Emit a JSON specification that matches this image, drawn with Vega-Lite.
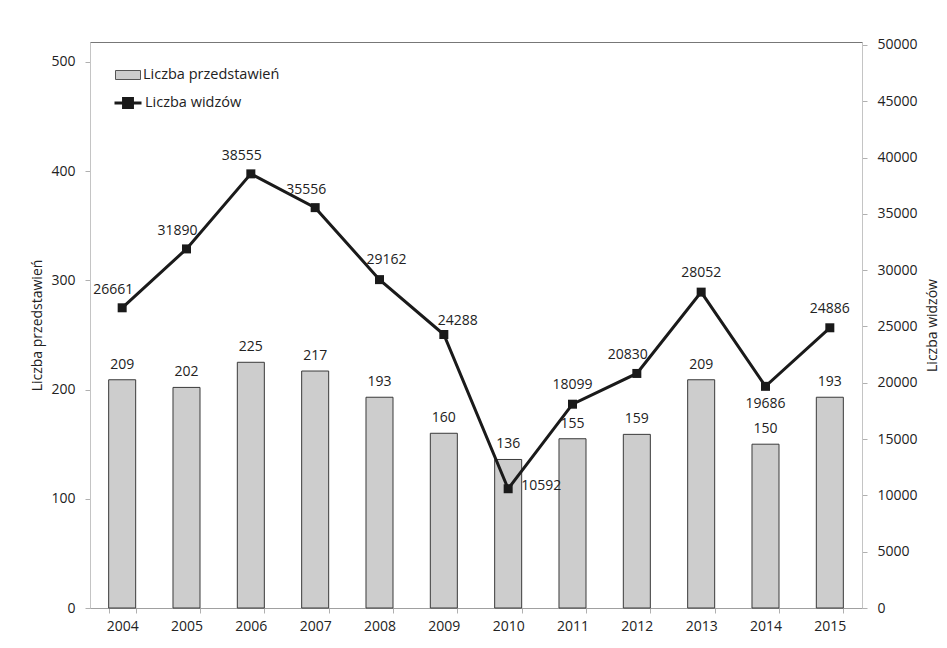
{
  "$schema": "https://vega.github.io/schema/vega-lite/v6.json",
  "width": 772,
  "height": 566,
  "autosize": {"type": "none"},
  "padding": {"left": 90, "top": 42, "right": 85, "bottom": 40},
  "background": "white",
  "config": {
    "font": "Open Sans",
    "view": {"stroke": "#777777", "strokeWidth": 1},
    "axis": {
      "labelFont": "Open Sans", "labelFontSize": 14, "labelColor": "#222",
      "titleFont": "Open Sans", "titleFontSize": 14, "titleFontWeight": "normal", "titleColor": "#222",
      "domainColor": "#c4c4c4", "tickColor": "#b0b0b0", "tickSize": 5, "grid": false
    },
    "legend": {"labelFont": "Open Sans", "labelFontSize": 14.5, "labelColor": "#222"}
  },
  "data": {
    "values": [
      {"rok": "2004", "przedstawienia": 209, "widzowie": 26661},
      {"rok": "2005", "przedstawienia": 202, "widzowie": 31890},
      {"rok": "2006", "przedstawienia": 225, "widzowie": 38555},
      {"rok": "2007", "przedstawienia": 217, "widzowie": 35556},
      {"rok": "2008", "przedstawienia": 193, "widzowie": 29162},
      {"rok": "2009", "przedstawienia": 160, "widzowie": 24288},
      {"rok": "2010", "przedstawienia": 136, "widzowie": 10592},
      {"rok": "2011", "przedstawienia": 155, "widzowie": 18099},
      {"rok": "2012", "przedstawienia": 159, "widzowie": 20830},
      {"rok": "2013", "przedstawienia": 209, "widzowie": 28052},
      {"rok": "2014", "przedstawienia": 150, "widzowie": 19686},
      {"rok": "2015", "przedstawienia": 193, "widzowie": 24886}
    ]
  },
  "encoding": {
    "x": {
      "field": "rok", "type": "ordinal",
      "scale": {"paddingInner": 0.58, "paddingOuter": 0.29},
      "axis": {"title": null, "labelAngle": 0, "tickBand": "extent", "labelPadding": 6, "domainColor": "#a0a0a0"}
    }
  },
  "layer": [
    {
      "encoding": {
        "y": {
          "field": "przedstawienia", "type": "quantitative",
          "scale": {"domain": [0, 518.3], "nice": false, "zero": true},
          "axis": {"orient": "left", "title": "Liczba przedstawień", "values": [0, 100, 200, 300, 400, 500], "labelPadding": 10, "titlePadding": 6}
        }
      },
      "layer": [
        {
          "mark": {"type": "bar", "stroke": "#3a3a3a", "strokeWidth": 1},
          "encoding": {
            "fill": {
              "datum": "Liczba przedstawień",
              "scale": {"range": ["#cdcdcd"]},
              "legend": {
                "title": null, "orient": "none", "legendX": 25, "legendY": 20,
                "symbolType": "M-1,-0.36H1V0.36H-1Z", "symbolSize": 625,
                "symbolStrokeColor": "#555", "symbolStrokeWidth": 1, "labelOffset": 2, "padding": 0
              }
            }
          }
        },
        {
          "mark": {"type": "text", "baseline": "middle", "dy": -15, "fontSize": 14, "color": "#222"},
          "encoding": {"text": {"field": "przedstawienia", "type": "quantitative"}}
        }
      ]
    },
    {
      "encoding": {
        "y": {
          "field": "widzowie", "type": "quantitative",
          "scale": {"domain": [0, 50266], "nice": false, "zero": true},
          "axis": {"orient": "right", "title": "Liczba widzów", "titleAngle": -90, "values": [0, 5000, 10000, 15000, 20000, 25000, 30000, 35000, 40000, 45000, 50000], "labelPadding": 10, "titlePadding": 22, "format": "d"}
        }
      },
      "layer": [
        {
          "mark": {"type": "line", "strokeWidth": 3},
          "encoding": {
            "stroke": {
              "datum": "Liczba widzów",
              "scale": {"range": ["#1a1a1a"]},
              "legend": {
                "title": null, "orient": "none", "legendX": 23, "legendY": 46,
                "symbolType": "M-1,0H1M-0.33,-0.33H0.33V0.33H-0.33Z", "symbolSize": 729,
                "symbolStrokeColor": "#1a1a1a", "symbolFillColor": "#1a1a1a", "symbolStrokeWidth": 3, "labelOffset": 2, "padding": 0
              }
            }
          }
        },
        {
          "mark": {"type": "point", "shape": "square", "filled": true, "size": 81, "color": "#1a1a1a", "opacity": 1}
        },
        {
          "transform": [{"filter": "indexof(['2011','2013','2015'], datum.rok) >= 0"}],
          "mark": {"type": "text", "baseline": "middle", "dy": -19, "fontSize": 14, "color": "#222"},
          "encoding": {"text": {"field": "widzowie", "type": "quantitative", "format": "d"}}
        },
        {
          "transform": [{"filter": "indexof(['2004','2005','2006','2007','2012'], datum.rok) >= 0"}],
          "mark": {"type": "text", "baseline": "middle", "dx": -9, "dy": -18, "fontSize": 14, "color": "#222"},
          "encoding": {"text": {"field": "widzowie", "type": "quantitative", "format": "d"}}
        },
        {
          "transform": [{"filter": "datum.rok == '2008'"}],
          "mark": {"type": "text", "baseline": "middle", "dx": 7, "dy": -20, "fontSize": 14, "color": "#222"},
          "encoding": {"text": {"field": "widzowie", "type": "quantitative", "format": "d"}}
        },
        {
          "transform": [{"filter": "datum.rok == '2009'"}],
          "mark": {"type": "text", "baseline": "middle", "dx": 14, "dy": -14, "fontSize": 14, "color": "#222"},
          "encoding": {"text": {"field": "widzowie", "type": "quantitative", "format": "d"}}
        },
        {
          "transform": [{"filter": "datum.rok == '2010'"}],
          "mark": {"type": "text", "baseline": "middle", "align": "left", "dx": 13, "dy": -3, "fontSize": 14, "color": "#222"},
          "encoding": {"text": {"field": "widzowie", "type": "quantitative", "format": "d"}}
        },
        {
          "transform": [{"filter": "datum.rok == '2014'"}],
          "mark": {"type": "text", "baseline": "middle", "dy": 18, "fontSize": 14, "color": "#222"},
          "encoding": {"text": {"field": "widzowie", "type": "quantitative", "format": "d"}}
        }
      ]
    }
  ],
  "resolve": {"scale": {"y": "independent", "fill": "independent", "stroke": "independent"}}
}
